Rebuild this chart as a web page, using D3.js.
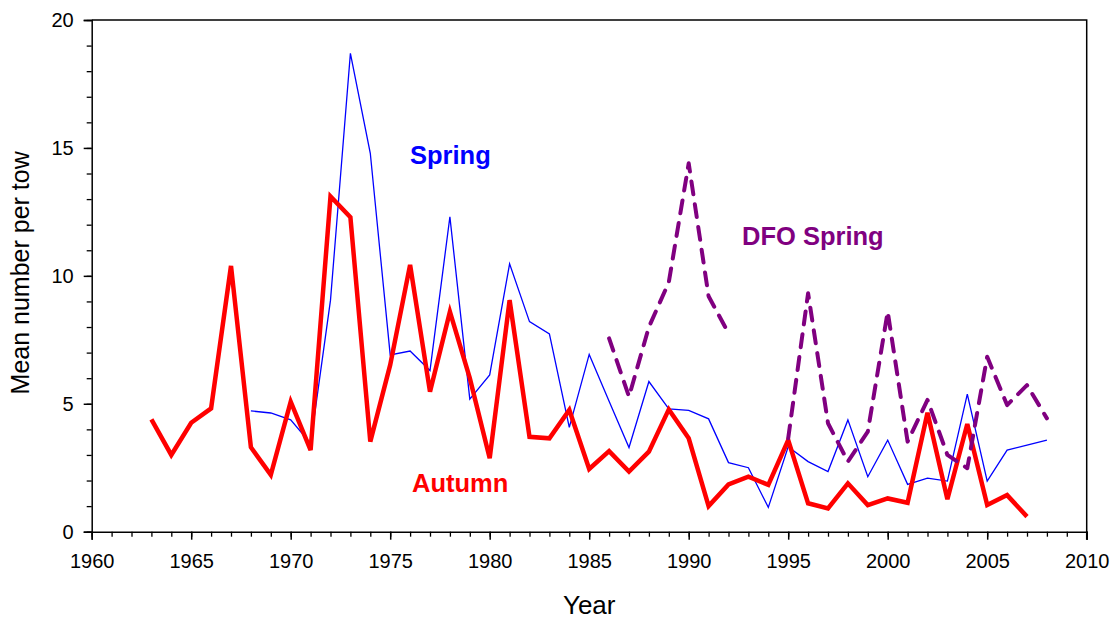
<!DOCTYPE html>
<html>
<head>
<meta charset="utf-8">
<script src="https://cdn.jsdelivr.net/npm/d3@7"></script>
<style>
  html, body { margin: 0; padding: 0; background: #fff; }
  svg { display: block; font-family: "Liberation Sans", Arial, Helvetica, sans-serif; }
</style>
</head>
<body>
<svg id="chart" width="1115" height="620"></svg>
<script>
// ---- data ----
const autumnYears = d3.range(1963, 2008);
const autumnValues = [4.39, 3.0, 4.26, 4.82, 10.39, 3.3, 2.22, 5.08, 3.19, 13.1,
  12.29, 3.52, 6.52, 10.43, 5.47, 8.6, 6.0, 2.87, 9.05, 3.71,
  3.65, 4.76, 2.45, 3.15, 2.35, 3.13, 4.78, 3.65, 1.0, 1.85,
  2.15, 1.83, 3.58, 1.11, 0.91, 1.89, 1.04, 1.3, 1.13, 4.65,
  1.27, 4.21, 1.04, 1.43, 0.59];

const springYears = d3.range(1968, 2009);
const springValues = [4.72, 4.64, 4.37, 3.45, 9.05, 18.7, 14.79, 6.91, 7.06, 6.3,
  12.31, 5.18, 6.13, 10.47, 8.21, 7.73, 4.08, 6.93, 5.1, 3.29,
  5.87, 4.8, 4.74, 4.41, 2.7, 2.5, 0.95, 3.32, 2.74, 2.35,
  4.37, 2.15, 3.58, 1.85, 2.09, 1.98, 5.38, 1.98, 3.19, 3.38, 3.58];

const dfoYears = d3.range(1986, 2009);
const dfoValues = [7.56, 5.28, 8.0, 9.75, 14.4, 9.2, 7.76, null, null, 3.65,
  9.32, 4.24, 2.74, 3.91, 8.6, 3.52, 5.15, 3.0, 2.48, 6.84,
  4.95, 5.73, 4.43];

const xTicks = d3.range(1960, 2011, 5);
const yTicks = [0, 5, 10, 15, 20];
const seriesLabels = ["Spring", "Autumn", "DFO Spring"];

// ---- layout ----
const svg = d3.select("#chart");
const mLeft = 91.7, mRight = 1086.7, mTop = 20, mBottom = 531.7;
const x = d3.scaleLinear().domain([1960, 2010]).range([mLeft, mRight]);
const y = d3.scaleLinear().domain([0, 20]).range([mBottom, mTop]);

// frame (top & right)
svg.append("path")
  .attr("d", `M${mLeft},${mTop}H${mRight}V${mBottom + 8}`)
  .attr("fill", "none").attr("stroke", "#000").attr("stroke-width", 1.5);

// X axis
const xMinor = d3.axisBottom(x).tickValues(d3.range(1960, 2011, 1)).tickSize(5).tickFormat("");
svg.append("g").attr("transform", `translate(0,${mBottom})`).call(xMinor)
  .call(g => g.select(".domain").remove())
  .call(g => g.selectAll("line").attr("stroke", "#000").attr("stroke-width", 1.3));
const xAxis = d3.axisBottom(x).tickValues(xTicks).tickSize(8).tickPadding(14).tickFormat(d3.format("d"));
svg.append("g").attr("transform", `translate(0,${mBottom})`).call(xAxis)
  .call(g => g.select(".domain").attr("stroke", "#000").attr("stroke-width", 1.5))
  .call(g => g.selectAll("line").attr("stroke", "#000").attr("stroke-width", 1.5))
  .call(g => g.selectAll("text").attr("font-size", 20).attr("fill", "#000")
    .attr("font-family", "'Liberation Sans', Arial, sans-serif"));

// Y axis
const yMinor = d3.axisLeft(y).tickValues(d3.range(0, 21, 1)).tickSize(5).tickFormat("");
svg.append("g").attr("transform", `translate(${mLeft},0)`).call(yMinor)
  .call(g => g.select(".domain").remove())
  .call(g => g.selectAll("line").attr("stroke", "#000").attr("stroke-width", 1.3));
const yAxis = d3.axisLeft(y).tickValues(yTicks).tickSize(8).tickPadding(10);
svg.append("g").attr("transform", `translate(${mLeft},0)`).call(yAxis)
  .call(g => g.select(".domain").attr("stroke", "#000").attr("stroke-width", 1.5))
  .call(g => g.selectAll("line").attr("stroke", "#000").attr("stroke-width", 1.5))
  .call(g => g.selectAll("text").attr("font-size", 20).attr("fill", "#000")
    .attr("font-family", "'Liberation Sans', Arial, sans-serif"));

// axis titles
svg.append("text").attr("x", (mLeft + mRight) / 2).attr("y", 614)
  .attr("text-anchor", "middle").attr("font-size", 26).attr("fill", "#000").text("Year");
svg.append("text").attr("transform", `translate(29,${(mTop + mBottom) / 2 - 3}) rotate(-90)`)
  .attr("text-anchor", "middle").attr("font-size", 25).attr("fill", "#000").text("Mean number per tow");

// ---- lines ----
const line = d3.line().defined(d => d[1] != null).x(d => x(d[0])).y(d => y(d[1]));
const springData = springYears.map((yr, i) => [yr, springValues[i]]);
const autumnData = autumnYears.map((yr, i) => [yr, autumnValues[i]]);
const dfoData = dfoYears.map((yr, i) => [yr, dfoValues[i]]);

svg.append("path").datum(springData).attr("d", line)
  .attr("fill", "none").attr("stroke", "#0000ff").attr("stroke-width", 1.3)
  .attr("stroke-linejoin", "miter");
svg.append("path").datum(autumnData).attr("d", line)
  .attr("fill", "none").attr("stroke", "#ff0000").attr("stroke-width", 4.5)
  .attr("stroke-linejoin", "miter").attr("stroke-miterlimit", 4);
svg.append("path").datum(dfoData).attr("d", line)
  .attr("fill", "none").attr("stroke", "#800080").attr("stroke-width", 4)
  .attr("stroke-dasharray", "13,10").attr("stroke-linecap", "round").attr("stroke-linejoin", "round");

// ---- series labels ----
const labelPos = [[410, 164, "#0000ff"], [412, 492, "#ff0000"], [742, 245, "#800080"]];
seriesLabels.forEach((t, i) => {
  svg.append("text").attr("x", labelPos[i][0]).attr("y", labelPos[i][1])
    .attr("font-size", 25.5).attr("font-weight", "bold").attr("fill", labelPos[i][2]).text(t);
});
</script>
</body>
</html>
